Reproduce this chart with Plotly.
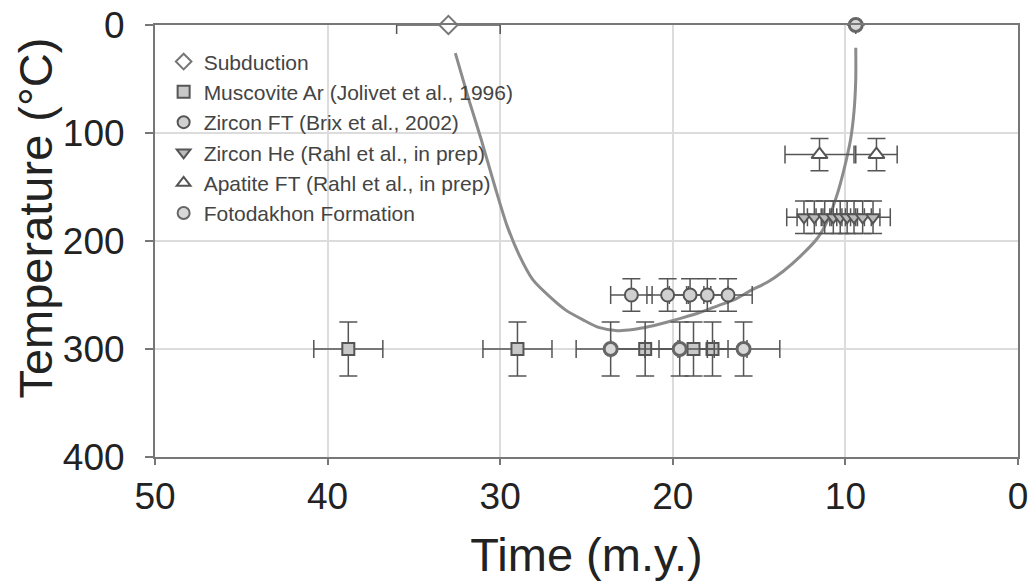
import plotly.graph_objects as go

# ---- data ----
sub_time = [33.0]
sub_temp = [0]
sub_xerr = [3.0]

mus_time = [38.8, 29.0, 21.6, 18.8, 17.7]
mus_temp = [300, 300, 300, 300, 300]
mus_xerr = [2.0, 2.0, 2.0, 2.0, 2.0]
mus_yerr = [25, 25, 25, 25, 25]

zft_time = [22.4, 20.3, 19.0, 18.0, 16.8]
zft_temp = [250, 250, 250, 250, 250]
zft_xerr = [1.2, 1.2, 1.2, 1.2, 1.4]
zft_yerr = [15, 15, 15, 15, 15]

zhe_time = [12.4, 11.8, 11.2, 10.7, 10.3, 9.9, 9.5, 9.0, 8.4]
zhe_temp = [178, 178, 178, 178, 178, 178, 178, 178, 178]
zhe_xerr = [1.0, 1.0, 1.0, 1.0, 1.0, 1.0, 1.0, 1.0, 1.0]
zhe_yerr = [15, 15, 15, 15, 15, 15, 15, 15, 15]

aft_time = [11.5, 8.2]
aft_temp = [120, 120]
aft_xerr = [2.0, 1.2]
aft_yerr = [15, 15]

fot_time = [9.4, 23.6, 19.6, 15.9]
fot_temp = [0, 300, 300, 300]
fot_xerr = [0, 2.0, 2.0, 2.1]
fot_yerr = [0, 25, 25, 25]

path_time = [32.6, 31.8, 31.1, 30.3, 29.6, 28.9, 28.1, 27.1, 26.2, 25.2, 24.3, 23.2,
             22.3, 21.3, 20.3, 19.4, 18.4, 17.4, 16.4, 15.5, 14.5, 13.6, 12.6, 11.6,
             11.0, 10.5, 10.1, 9.7, 9.5, 9.4, 9.4]
path_temp = [26, 70, 106, 150, 186, 213, 236, 252, 264, 273, 280, 283,
             282, 279, 275, 271, 266, 260, 254, 246, 238, 228, 214, 197,
             180, 158, 135, 106, 80, 50, 21]

x_ticks = [50, 40, 30, 20, 10, 0]
y_ticks = [0, 100, 200, 300, 400]

ERR = "#555555"
EDGE = "#555555"

def err(arr, show=True):
    return dict(type="data", array=arr, visible=show, color=ERR, thickness=1.5, width=9)

fig = go.Figure()

fig.add_trace(go.Scatter(x=path_time, y=path_temp, mode="lines",
                         line=dict(color="#8c8c8c", width=3, shape="spline", smoothing=0.7),
                         showlegend=False, hoverinfo="skip"))

fig.add_trace(go.Scatter(x=sub_time, y=sub_temp, mode="markers", name="Subduction", cliponaxis=False,
                         error_x=err(sub_xerr),
                         marker=dict(symbol="diamond", size=14, color="white", line=dict(color="#777777", width=2))))
fig.add_trace(go.Scatter(x=mus_time, y=mus_temp, mode="markers", name="Muscovite Ar (Jolivet et al., 1996)",
                         error_x=err(mus_xerr), error_y=err(mus_yerr),
                         marker=dict(symbol="square", size=12, color="#c8c8c8", line=dict(color=EDGE, width=2))))
fig.add_trace(go.Scatter(x=zft_time, y=zft_temp, mode="markers", name="Zircon FT (Brix et al., 2002)",
                         error_x=err(zft_xerr), error_y=err(zft_yerr),
                         marker=dict(symbol="circle", size=13, color="#d0d0d0", line=dict(color=EDGE, width=2))))
fig.add_trace(go.Scatter(x=zhe_time, y=zhe_temp, mode="markers", name="Zircon He (Rahl et al., in prep)",
                         error_x=err(zhe_xerr), error_y=err(zhe_yerr),
                         marker=dict(symbol="triangle-down", size=12, color="#bbbbbb", line=dict(color=EDGE, width=2))))
fig.add_trace(go.Scatter(x=aft_time, y=aft_temp, mode="markers", name="Apatite FT (Rahl et al., in prep)",
                         error_x=err(aft_xerr), error_y=err(aft_yerr),
                         marker=dict(symbol="triangle-up", size=14, color="white", line=dict(color=EDGE, width=2))))
fig.add_trace(go.Scatter(x=fot_time, y=fot_temp, mode="markers", name="Fotodakhon Formation", cliponaxis=False,
                         error_x=err(fot_xerr), error_y=err(fot_yerr),
                         marker=dict(symbol="circle", size=13, color="#d8d8d8", line=dict(color="#666666", width=3))))

fig.update_layout(
    width=1030, height=585,
    margin=dict(l=155, r=12, t=25, b=128),
    paper_bgcolor="white", plot_bgcolor="white",
    font=dict(family="Liberation Sans, Arial, sans-serif", color="#222222"),
    legend=dict(x=0.01, y=0.962, xanchor="left", yanchor="top", bgcolor="rgba(0,0,0,0)",
                font=dict(size=21, color="#444444"), tracegroupgap=3, itemsizing="constant"),
    showlegend=True,
    annotations=[dict(text="Temperature (°C)", textangle=-90, xref="paper", yref="paper",
                      x=-0.1385, y=0.553, xanchor="center", yanchor="middle", showarrow=False,
                      font=dict(size=47, color="#222222"))],
)
fig.update_xaxes(range=[50, 0], tickvals=x_ticks, ticktext=[str(v) for v in x_ticks], automargin=False,
                 showgrid=True, gridcolor="#dcdcdc", gridwidth=1.5,
                 showline=True, linecolor="#777777", linewidth=2, mirror=True,
                 ticks="outside", ticklen=6, tickcolor="#777777", tickwidth=1.5,
                 tickfont=dict(size=37, color="#222222"), zeroline=False, ticklabeloverflow="allow",
                 title=dict(text="Time (m.y.)", font=dict(size=47, color="#222222"), standoff=22))
fig.update_yaxes(range=[400, 0], tickvals=y_ticks, ticktext=[str(v) for v in y_ticks], automargin=False,
                 showgrid=True, gridcolor="#dcdcdc", gridwidth=1.5,
                 showline=True, linecolor="#777777", linewidth=2, mirror=True,
                 ticks="outside", ticklen=8, tickcolor="#777777", tickwidth=1.5,
                 tickfont=dict(size=37, color="#222222"), zeroline=False, ticklabelstandoff=13,
                 ticklabeloverflow="allow")

fig.write_html("out.html", config={"displayModeBar": False},
               post_script="document.body.style.margin='0';")
